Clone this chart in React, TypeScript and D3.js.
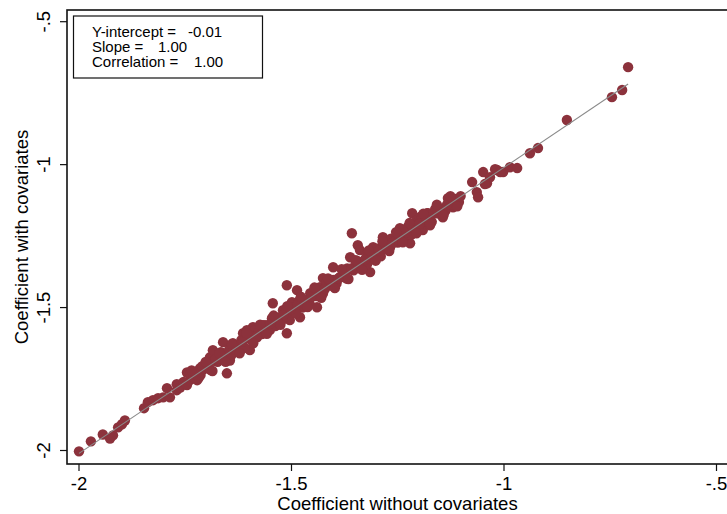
import * as d3 from 'd3';

// coefficient without covariates (x) vs with covariates (y)
const outerX = [
  -2.0, -1.972, -1.944, -1.927, -1.92, -1.908, -1.899, -1.892, -1.847, -1.838,
  -1.826, -1.814, -1.802, -1.793, -1.786, -1.77, -1.755, -1.746, -1.739, -1.722,
  -1.715, -1.699, -1.692, -1.685, -1.661, -1.652, -1.645, -1.638, -1.628, -1.614,
  -1.598, -1.591, -1.581, -1.567, -1.551, -1.534, -1.544, -1.511, -1.504, -1.48,
  -1.473, -1.605, -1.52, -1.499, -1.511, -1.487, -1.475, -1.456, -1.44, -1.433,
  -1.426, -1.409, -1.402, -1.386, -1.369, -1.362, -1.346, -1.358, -1.344, -1.339,
  -1.322, -1.315, -1.308, -1.285, -1.275, -1.252, -1.245, -1.221, -1.228, -1.216,
  -1.205, -1.191, -1.181, -1.292, -1.268, -1.238, -1.198, -1.191, -1.179, -1.174,
  -1.158, -1.144, -1.132, -1.12, -1.111, -1.075, -1.064, -1.061, -1.049, -1.04,
  -1.033, -1.016, -1.002, -0.986, -0.969, -0.939, -0.92, -0.852, -0.746, -0.722,
  -0.708, -1.045, -1.021, -1.009,
];
const outerY = [
  -2.003, -1.968, -1.944, -1.958, -1.947, -1.919, -1.908, -1.895, -1.852, -1.831,
  -1.824, -1.817, -1.814, -1.782, -1.814, -1.789, -1.765, -1.727, -1.754, -1.754,
  -1.712, -1.709, -1.674, -1.649, -1.621, -1.73, -1.685, -1.625, -1.649, -1.59,
  -1.649, -1.569, -1.604, -1.562, -1.579, -1.555, -1.485, -1.59, -1.544, -1.534,
  -1.499, -1.579, -1.509, -1.481, -1.422, -1.439, -1.499, -1.45, -1.499, -1.429,
  -1.397, -1.415, -1.359, -1.394, -1.363, -1.324, -1.345, -1.24, -1.282, -1.299,
  -1.31, -1.376, -1.289, -1.254, -1.275, -1.264, -1.222, -1.275, -1.236, -1.17,
  -1.194, -1.177, -1.17, -1.31, -1.289, -1.264, -1.184, -1.229, -1.17, -1.212,
  -1.159, -1.184, -1.117, -1.149, -1.131, -1.061, -1.096, -1.114, -1.026, -1.065,
  -1.044, -1.019, -1.026, -1.009, -1.012, -0.96, -0.942, -0.844, -0.764, -0.739,
  -0.659, -1.068, -1.016, -1.026,
];
const bandX = [
  -1.77, -1.762, -1.754, -1.746, -1.738, -1.73, -1.722, -1.714, -1.706, -1.698,
  -1.69, -1.682, -1.674, -1.666, -1.658, -1.65, -1.642, -1.634, -1.626, -1.618,
  -1.61, -1.602, -1.594, -1.586, -1.578, -1.57, -1.562, -1.554, -1.546, -1.538,
  -1.53, -1.522, -1.514, -1.506, -1.498, -1.49, -1.482, -1.474, -1.466, -1.458,
  -1.45, -1.442, -1.434, -1.426, -1.418, -1.41, -1.402, -1.394, -1.386, -1.378,
  -1.37, -1.362, -1.354, -1.346, -1.338, -1.33, -1.322, -1.314, -1.306, -1.298,
  -1.29, -1.282, -1.274, -1.266, -1.258, -1.25, -1.242, -1.234, -1.226, -1.218,
  -1.21, -1.202, -1.194, -1.186, -1.178, -1.17, -1.162, -1.154, -1.146, -1.138,
  -1.13, -1.122, -1.114, -1.106,
  -1.726, -1.71, -1.694, -1.678, -1.662, -1.646, -1.63, -1.614, -1.598, -1.582,
  -1.566, -1.55, -1.534, -1.518, -1.502, -1.486, -1.47, -1.454, -1.438, -1.422,
  -1.406, -1.39, -1.374, -1.358, -1.342, -1.326, -1.31, -1.294, -1.278, -1.262,
  -1.246, -1.23, -1.214, -1.198, -1.182, -1.166, -1.15, -1.134, -1.118, -1.102,
];
const bandY = [
  -1.768, -1.78, -1.76, -1.771, -1.73, -1.743, -1.723, -1.736, -1.715, -1.693,
  -1.719, -1.686, -1.69, -1.656, -1.678, -1.657, -1.668, -1.633, -1.638, -1.614,
  -1.641, -1.605, -1.613, -1.579, -1.588, -1.593, -1.562, -1.568, -1.537, -1.565,
  -1.535, -1.543, -1.511, -1.517, -1.5, -1.52, -1.476, -1.491, -1.474, -1.482,
  -1.448, -1.46, -1.44, -1.451, -1.41, -1.423, -1.403, -1.416, -1.395, -1.373,
  -1.399, -1.366, -1.37, -1.336, -1.358, -1.337, -1.348, -1.313, -1.318, -1.294,
  -1.321, -1.285, -1.293, -1.259, -1.268, -1.273, -1.242, -1.248, -1.217, -1.245,
  -1.215, -1.223, -1.191, -1.197, -1.18, -1.2, -1.156, -1.171, -1.154, -1.162,
  -1.128, -1.14, -1.12, -1.131,
  -1.728, -1.705, -1.712, -1.68, -1.681, -1.645, -1.65, -1.618, -1.598, -1.6,
  -1.57, -1.556, -1.542, -1.524, -1.506, -1.49, -1.484, -1.46, -1.442, -1.436,
  -1.41, -1.398, -1.382, -1.362, -1.35, -1.33, -1.322, -1.3, -1.282, -1.274,
  -1.25, -1.236, -1.22, -1.206, -1.188, -1.17, -1.16, -1.14, -1.124, -1.11,
];
// wider spread around the band edges
const edgeX = [
  -1.735, -1.718, -1.702, -1.686, -1.67, -1.655, -1.64, -1.622, -1.606, -1.59,
  -1.574, -1.558, -1.542, -1.526, -1.51, -1.478, -1.462, -1.446, -1.43, -1.414,
  -1.398, -1.382, -1.366, -1.35, -1.334, -1.318, -1.302, -1.286, -1.27, -1.254,
  -1.238, -1.222, -1.206, -1.19, -1.174, -1.158, -1.142, -1.126, -1.11,
];
const edgeY = [
  -1.72, -1.745, -1.69, -1.722, -1.66, -1.69, -1.628, -1.66, -1.59, -1.625,
  -1.56, -1.592, -1.528, -1.56, -1.495, -1.462, -1.498, -1.43, -1.466, -1.398,
  -1.432, -1.366, -1.4, -1.334, -1.368, -1.3, -1.336, -1.268, -1.302, -1.236,
  -1.272, -1.204, -1.24, -1.172, -1.206, -1.14, -1.176, -1.11, -1.146,
];

const tickValues = [-2, -1.5, -1, -0.5];
const tickLabels = ['-2', '-1.5', '-1', '-.5'];
const statLabels = ['Y-intercept =', 'Slope =', 'Correlation ='];
const statValues = [-0.01, 1.0, 1.0];

const W = 727;
const H = 514;
const font = '"Liberation Sans", Arial, sans-serif';
const dot = '#8c323c';

export default function App(): React.ReactNode {
  const x = d3.scaleLinear().domain([-2, -0.5]).range([79, 716.5]);
  const y = d3.scaleLinear().domain([-2, -0.5]).range([450.5, 21.7]);

  const plot = { left: 67, top: 10, right: 745, bottom: 464 };

  const pts = [
    ...outerX.map((v, i) => [v, outerY[i]]),
    ...bandX.map((v, i) => [v, bandY[i]]),
    ...edgeX.map((v, i) => [v, edgeY[i]]),
  ];

  const [b0, b1] = statValues;
  const xMin = d3.min(pts, (p) => p[0]) ?? -2;
  const xMax = d3.max(pts, (p) => p[0]) ?? -0.7;
  const fit = d3.line<number>()
    .x((v) => x(v))
    .y((v) => y(b0 + b1 * v))([xMin, xMax]) ?? '';

  const statX = [188, 158, 194];

  return (
    <div style={{ position: 'fixed', left: 0, top: 0 }}>
      <svg width={W} height={H} style={{ display: 'block', background: '#fff' }} fontFamily={font}>
        <rect
          x={plot.left}
          y={plot.top}
          width={plot.right - plot.left}
          height={plot.bottom - plot.top}
          fill="none"
          stroke="#111"
          strokeWidth={1.6}
        />
        {pts.map((p, i) => (
          <circle key={i} cx={x(p[0])} cy={y(p[1])} r={5.2} fill={dot} />
        ))}
        <path d={fit} fill="none" stroke="#8a8a8a" strokeWidth={1.1} />

        {/* x axis */}
        {tickValues.map((t, i) => (
          <g key={'x' + t}>
            <line x1={x(t)} x2={x(t)} y1={plot.bottom} y2={plot.bottom + 7} stroke="#111" strokeWidth={1.2} />
            <text x={x(t)} y={490} textAnchor="middle" fontSize={18.5} fill="#000">
              {tickLabels[i]}
            </text>
          </g>
        ))}
        <text x={397.5} y={510} textAnchor="middle" fontSize={18.5} fill="#000">
          Coefficient without covariates
        </text>

        {/* y axis */}
        {tickValues.map((t, i) => (
          <g key={'y' + t}>
            <line x1={plot.left - 7} x2={plot.left} y1={y(t)} y2={y(t)} stroke="#111" strokeWidth={1.2} />
            <text
              transform={`translate(50,${y(t)}) rotate(-90)`}
              textAnchor="middle"
              fontSize={18.5}
              fill="#000"
            >
              {tickLabels[i]}
            </text>
          </g>
        ))}
        <text
          transform={`translate(28,${(plot.top + plot.bottom) / 2}) rotate(-90)`}
          textAnchor="middle"
          fontSize={18.5}
          fill="#000"
        >
          Coefficient with covariates
        </text>

        {/* stats box */}
        <rect x={73.5} y={16} width={189} height={62} fill="#fff" stroke="#111" strokeWidth={1.2} />
        {statLabels.map((s, i) => (
          <g key={s}>
            <text x={92} y={37 + i * 15} fontSize={15} fill="#000">
              {s}
            </text>
            <text x={statX[i]} y={37 + i * 15} fontSize={15} fill="#000">
              {statValues[i].toFixed(2)}
            </text>
          </g>
        ))}
      </svg>
    </div>
  );
}
